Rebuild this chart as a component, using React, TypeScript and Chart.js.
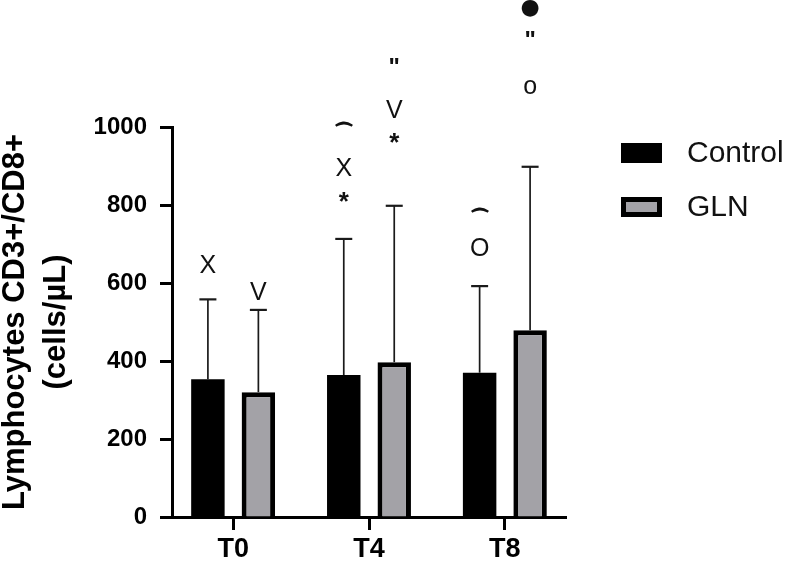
import { useEffect, useRef } from 'react';
import { Chart, registerables } from 'chart.js';

Chart.register(...registerables);

// ---- data ----
const categories = ['T0', 'T4', 'T8'];
const seriesNames = ['Control', 'GLN'];
const controlMean = [353, 364, 370];
const controlUpper = [558, 713, 592]; // mean + SD (error bar top)
const glnMean = [320, 397, 479];
const glnUpper = [531, 798, 898];
const yTickValues = [0, 200, 400, 600, 800, 1000];
const yTitle = ['Lymphocytes CD3+/CD8+', '(cells/µL)'];

// significance symbols above each bar: [symbol, y-level in axis units]
const controlMarks: [string, number][][] = [
  [['X', 649]],
  [['*', 820], ['X', 897], ['⌒', 1008]],
  [['O', 692], ['⌒', 787]],
];
const glnMarks: [string, number][][] = [
  [['V', 579]],
  [['*', 972], ['V', 1046], ['"', 1167]],
  [['o', 1103], ['"', 1236], ['●', 1305]],
];

const FONT = 'Arial, "Liberation Sans", Helvetica, sans-serif';
const GRAY = '#a3a2a7';

const symbolFont = (sym: string) => {
  if (sym === '*') return `bold 26px ${FONT}`;
  if (sym === '"') return `bold 24px ${FONT}`;
  if (sym === '●') return `22px "DejaVu Sans", sans-serif`;
  if (sym === '⌒') return `bold 18px "DejaVu Sans", sans-serif`;
  return `25px ${FONT}`;
};

const errorBarPlugin = {
  id: 'errorBars',
  afterDatasetsDraw(chart: any) {
    const ctx = chart.ctx;
    const yScale = chart.scales.y;
    const uppers = [controlUpper, glnUpper];
    ctx.save();
    ctx.strokeStyle = '#1a1a1a';
    chart.data.datasets.forEach((_: any, di: number) => {
      const meta = chart.getDatasetMeta(di);
      meta.data.forEach((el: any, j: number) => {
        const yCap = yScale.getPixelForValue(uppers[di][j]);
        ctx.lineWidth = 1.7;
        ctx.beginPath();
        ctx.moveTo(el.x, el.y);
        ctx.lineTo(el.x, yCap);
        ctx.stroke();
        ctx.lineWidth = 2.2;
        ctx.beginPath();
        ctx.moveTo(el.x - 8.5, yCap);
        ctx.lineTo(el.x + 8.5, yCap);
        ctx.stroke();
      });
    });
    ctx.restore();
  },
};

const annotationPlugin = {
  id: 'annotations',
  afterDraw(chart: any) {
    const ctx = chart.ctx;
    const yScale = chart.scales.y;
    const marks = [controlMarks, glnMarks];
    ctx.save();
    ctx.fillStyle = '#111';
    ctx.strokeStyle = '#111';
    ctx.textAlign = 'center';
    ctx.textBaseline = 'alphabetic';
    chart.data.datasets.forEach((_: any, di: number) => {
      const meta = chart.getDatasetMeta(di);
      meta.data.forEach((el: any, j: number) => {
        marks[di][j].forEach(([sym, v]) => {
          ctx.font = symbolFont(sym);
          const m = ctx.measureText(sym);
          const cy = yScale.getPixelForValue(v);
          const asc = m.actualBoundingBoxAscent;
          const desc = m.actualBoundingBoxDescent;
          const ty = cy + (asc - desc) / 2;
          ctx.fillText(sym, el.x, ty);
          if (sym === '⌒') {
            ctx.lineWidth = 1.4;
            ctx.strokeText(sym, el.x, ty);
          }
        });
      });
    });
    ctx.restore();
  },
};

const legendPlugin = {
  id: 'customLegend',
  afterDraw(chart: any) {
    const ctx = chart.ctx;
    ctx.save();
    const items = chart.data.datasets;
    items.forEach((ds: any, i: number) => {
      const bx = 621;
      const by = 143 + i * 54;
      const bw = 41;
      const bh = 20;
      ctx.fillStyle = '#000';
      ctx.fillRect(bx, by, bw, bh);
      if (i === 1) {
        ctx.fillStyle = GRAY;
        ctx.fillRect(bx + 5, by + 5, bw - 10, bh - 10);
      }
      ctx.fillStyle = '#111';
      ctx.font = `30px ${FONT}`;
      ctx.textAlign = 'left';
      ctx.textBaseline = 'middle';
      ctx.fillText(ds.label, 687, by + bh / 2 + 1);
    });
    ctx.restore();
  },
};

export default function App() {
  const canvasRef = useRef<HTMLCanvasElement | null>(null);

  useEffect(() => {
    document.body.style.margin = '0';
    const canvas = canvasRef.current;
    if (!canvas) return;
    const chart = new Chart(canvas, {
      type: 'bar',
      data: {
        datasets: [
          {
            label: seriesNames[0],
            data: controlMean.map((v, i) => ({ x: i, y: v })),
            backgroundColor: '#000000',
            borderWidth: 0,
            categoryPercentage: 0.743,
            barPercentage: 0.663,
          },
          {
            label: seriesNames[1],
            data: glnMean.map((v, i) => ({ x: i, y: v })),
            backgroundColor: GRAY,
            borderColor: '#000000',
            borderWidth: 5,
            categoryPercentage: 0.743,
            barPercentage: 0.663,
          },
        ],
      } as any,
      options: {
        responsive: false,
        animation: false,
        devicePixelRatio: 1,
        layout: { padding: { left: 0, top: 127, right: 220, bottom: 0 } },
        plugins: {
          legend: { display: false },
          tooltip: { enabled: false },
        },
        scales: {
          x: {
            type: 'linear',
            min: -0.45,
            max: 2.45,
            offset: false,
            afterBuildTicks: (scale: any) => {
              scale.ticks = categories.map((_, i) => ({ value: i }));
            },
            afterFit: (scale: any) => {
              scale.height = 49;
            },
            grid: {
              display: true,
              offset: false,
              drawOnChartArea: false,
              drawTicks: true,
              tickLength: 13,
              tickWidth: 3,
              color: '#000',
            },
            border: { display: true, color: '#000', width: 3 },
            ticks: {
              autoSkip: false,
              maxRotation: 0,
              padding: 3,
              color: '#000',
              font: { family: FONT, size: 27, weight: 'bold' },
              callback: (value: any) => categories[value] ?? '',
            },
          },
          y: {
            type: 'linear',
            min: 0,
            max: 1000,
            afterBuildTicks: (scale: any) => {
              scale.ticks = yTickValues.map((v) => ({ value: v }));
            },
            afterFit: (scale: any) => {
              scale.width = 172;
            },
            grid: {
              display: true,
              drawOnChartArea: false,
              drawTicks: true,
              tickLength: 12,
              tickWidth: 3,
              color: '#000',
            },
            border: { display: true, color: '#000', width: 3 },
            ticks: {
              padding: 13,
              color: '#000',
              font: { family: FONT, size: 24, weight: 'bold' },
              callback: (value: any) => String(value),
            },
            title: {
              display: true,
              text: yTitle,
              color: '#000',
              font: { family: FONT, size: 31, weight: 'bold', lineHeight: 1.32 },
              padding: { top: -5, bottom: 0 },
            },
          },
        },
      } as any,
      plugins: [errorBarPlugin, annotationPlugin, legendPlugin],
    });
    return () => chart.destroy();
  }, []);

  return (
    <div style={{ position: 'absolute', left: 0, top: 0, width: 786, height: 566 }}>
      <canvas ref={canvasRef} width={786} height={566} style={{ width: 786, height: 566, display: 'block' }} />
    </div>
  );
}
